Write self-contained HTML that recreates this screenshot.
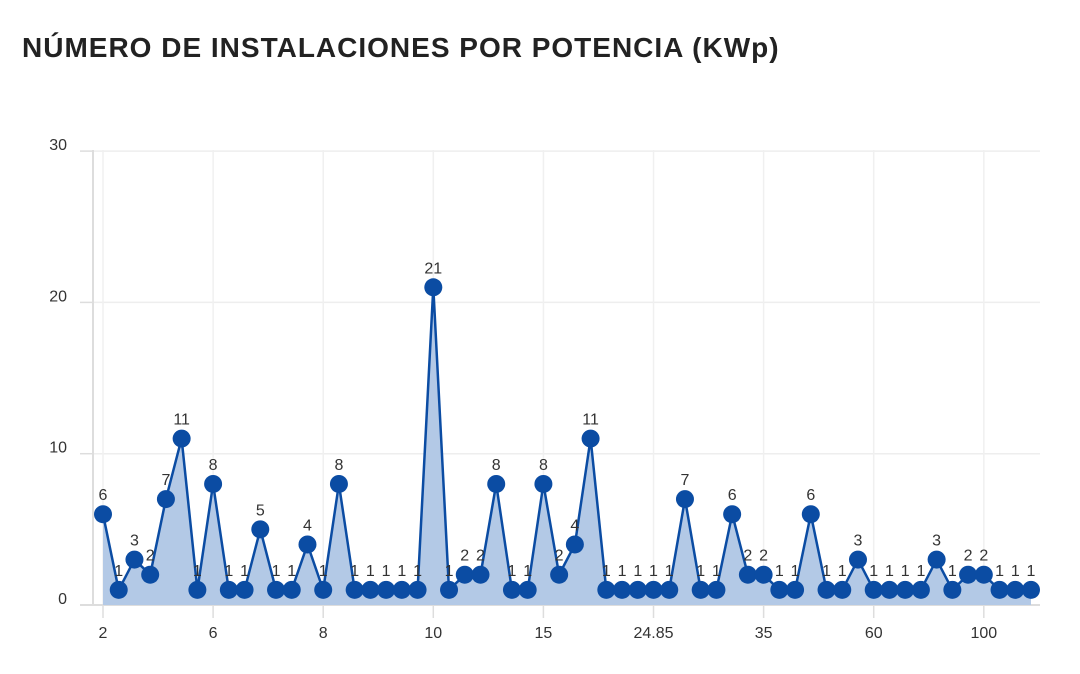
<!DOCTYPE html>
<html><head><meta charset="utf-8"><style>
body{margin:0;background:#fff;width:1080px;height:674px;overflow:hidden;font-family:"Liberation Sans",sans-serif}
h1{position:absolute;left:22px;top:32px;margin:0;font-size:28px;font-weight:bold;color:#222;letter-spacing:1px}
svg{position:absolute;left:0;top:0}
</style></head><body>
<h1>NÚMERO DE INSTALACIONES POR POTENCIA (KWp)</h1>
<svg id="c" width="1080" height="674" xmlns="http://www.w3.org/2000/svg"></svg>
<script>
var v=[6,1,3,2,7,11,1,8,1,1,5,1,1,4,1,8,1,1,1,1,1,21,1,2,2,8,1,1,8,2,4,11,1,1,1,1,1,7,1,1,6,2,2,1,1,6,1,1,3,1,1,1,1,3,1,2,2,1,1,1];
var X=function(i){return 103+i*928/59},Y=function(t){return 605-t*15.13};
var s='';
[0,10,20,30].forEach(function(t){var y=Y(t);s+='<line x1="93" x2="1040" y1="'+y+'" y2="'+y+'" stroke="#eee" stroke-width="1.5"/><line x1="80" x2="93" y1="'+y+'" y2="'+y+'" stroke="#ddd" stroke-width="1.5"/><text x="67" y="'+(y-1)+'" font-size="16" fill="#333" text-anchor="end">'+t+'</text>';});
var xl=['2','6','8','10','15','24.85','35','60','100'];
xl.forEach(function(l,k){var x=X(k*7);s+='<line x1="'+x+'" x2="'+x+'" y1="150" y2="605" stroke="#f0f0f0" stroke-width="1.5"/><line x1="'+x+'" x2="'+x+'" y1="605" y2="618" stroke="#ddd" stroke-width="1.5"/><text x="'+x+'" y="638" font-size="16" fill="#333" text-anchor="middle">'+l+'</text>';});
s+='<line x1="93" x2="93" y1="150" y2="605" stroke="#ddd" stroke-width="2"/><line x1="80" x2="1040" y1="605" y2="605" stroke="#ddd" stroke-width="2"/>';
var p=v.map(function(t,i){return X(i).toFixed(1)+','+Y(t).toFixed(1)}).join(' ');
s+='<polygon points="'+X(0)+',605 '+p+' '+X(59)+',605" fill="#b3c9e6"/>';
s+='<polyline points="'+p+'" fill="none" stroke="#0b4ca3" stroke-width="2.5"/>';
v.forEach(function(t,i){var x=X(i),y=Y(t);s+='<circle cx="'+x+'" cy="'+y+'" r="9" fill="#0b4ca3"/><text x="'+x+'" y="'+(y-14)+'" font-size="16" fill="#333" text-anchor="middle">'+t+'</text>';});
document.getElementById('c').innerHTML=s;
</script>
</body></html>
